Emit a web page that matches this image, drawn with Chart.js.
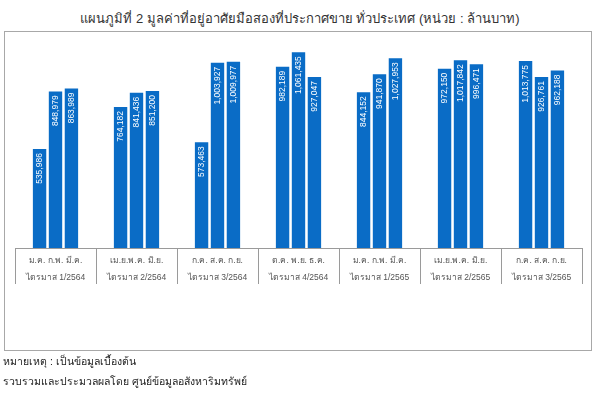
<!DOCTYPE html>
<html>
<head>
<meta charset="utf-8">
<script src="https://cdn.jsdelivr.net/npm/chart.js@4.4.1/dist/chart.umd.min.js"></script>
<style>
  body { margin: 0; background: #fff; font-family: Tahoma, "Liberation Sans", "DejaVu Sans", sans-serif; }
  #wrap { position: relative; width: 600px; height: 395px; overflow: hidden; }
  #title { position: absolute; left: 0; top: 8px; width: 600px; text-align: center; font-size: 13px; color: #333; }
  #frame { position: absolute; left: 4px; top: 31px; width: 586px; height: 318px; border: 1.5px solid #a8a8a8; }
  #chart { position: absolute; left: 0; top: 0; }
  .note { position: absolute; left: 3px; font-size: 10.5px; color: #222; }
</style>
</head>
<body>
<div id="wrap">
  <div id="title">แผนภูมิที่ 2 มูลค่าที่อยู่อาศัยมือสองที่ประกาศขาย ทั่วประเทศ (หน่วย : ล้านบาท)</div>
  <div id="frame"></div>
  <canvas id="chart" width="600" height="395"></canvas>
  <div class="note" style="top:353px">หมายเหตุ : เป็นข้อมูลเบื้องต้น</div>
  <div class="note" style="top:373px">รวบรวมและประมวลผลโดย ศูนย์ข้อมูลอสังหาริมทรัพย์</div>
</div>
<script>
document.addEventListener('DOMContentLoaded', function () {

    const monthLabels = ['ม.ค. ก.พ. มี.ค.', 'เม.ย.พ.ค. มิ.ย.', 'ก.ค. ส.ค. ก.ย.', 'ต.ค. พ.ย. ธ.ค.', 'ม.ค. ก.พ. มี.ค.', 'เม.ย.พ.ค. มิ.ย.', 'ก.ค. ส.ค. ก.ย.'];
    const quarterLabels = ['ไตรมาส 1/2564', 'ไตรมาส 2/2564', 'ไตรมาส 3/2564', 'ไตรมาส 4/2564', 'ไตรมาส 1/2565', 'ไตรมาส 2/2565', 'ไตรมาส 3/2565'];

    // first, second and third month of each quarter
    const month1 = [535986, 764182, 573463, 982189, 844152, 972150, 1013775];
    const month2 = [848979, 841436, 1003927, 1061435, 941870, 1017842, 926761];
    const month3 = [863989, 851200, 1009977, 927047, 1027953, 996471, 962188];

    const barColor = '#0a6cc6';

    const ctx = document.getElementById('chart').getContext('2d');

    // white rotated value inside each bar
    const barValues = {
        id: 'barValues',
        afterDatasetsDraw(chart) {
            const c = chart.ctx;
            c.save();
            c.fillStyle = '#fff';
            c.font = '8.5px "Liberation Sans", Arial, sans-serif';
            c.textAlign = 'right';
            c.textBaseline = 'middle';
            chart.data.datasets.forEach((ds, i) => {
                chart.getDatasetMeta(i).data.forEach((bar, j) => {
                    c.save();
                    c.translate(bar.x, bar.y + 4);
                    c.rotate(-Math.PI / 2);
                    c.fillText(ds.data[j].toLocaleString('en-US'), 0, 0.5);
                    c.restore();
                });
            });
            c.restore();
        }
    };

    const makeSet = (name, values) => ({
        label: name,
        data: values,
        backgroundColor: barColor,
        categoryPercentage: 0.59,
        barPercentage: 0.84
    });

    new Chart(ctx, {
        type: 'bar',
        data: {
            labels: monthLabels.map((m, i) => [m, quarterLabels[i]]),
            datasets: [
                makeSet('เดือนที่ 1', month1),
                makeSet('เดือนที่ 2', month2),
                makeSet('เดือนที่ 3', month3)
            ]
        },
        options: {
            responsive: false,
            animation: false,
            layout: {
                padding: { left: 15, right: 18, top: 34, bottom: 107 }
            },
            plugins: {
                legend: { display: false },
                tooltip: { enabled: false }
            },
            scales: {
                x: {
                    grid: {
                        offset: true,
                        drawOnChartArea: false,
                        drawTicks: true,
                        tickLength: 36,
                        color: (c) => c.index === monthLabels.length ? 'rgba(0,0,0,0)' : '#9a9a9a',
                        lineWidth: 1
                    },
                    border: { display: true, color: '#9a9a9a' },
                    ticks: {
                        padding: -32,
                        color: '#555',
                        font: { size: 8.5, family: 'Tahoma, "Liberation Sans", sans-serif', lineHeight: 2 },
                        maxRotation: 0,
                        autoSkip: false
                    },
                    afterFit: (scale) => { scale.height = 40; }
                },
                y: {
                    display: false,
                    min: 0,
                    max: 1160000
                }
            }
        },
        plugins: [barValues]
    });

});
</script>
</body>
</html>
